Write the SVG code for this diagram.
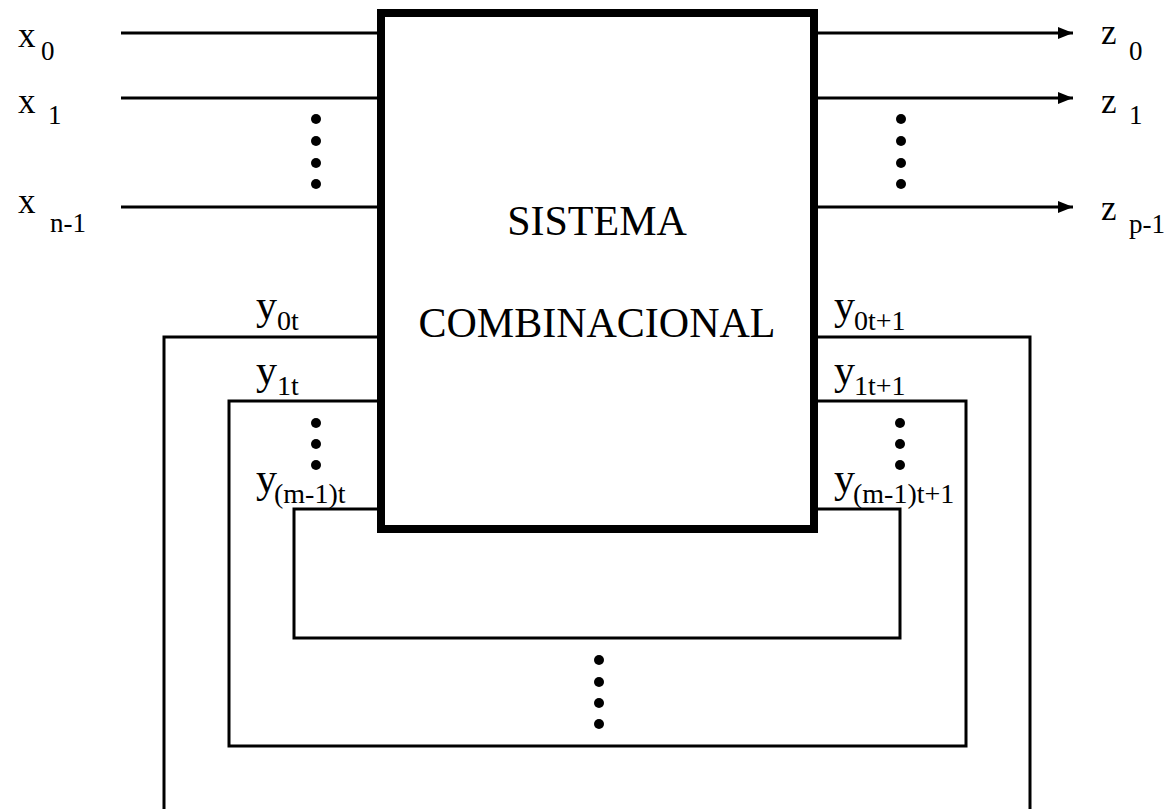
<svg xmlns="http://www.w3.org/2000/svg" width="1171" height="809" viewBox="0 0 1171 809">
<defs>
<style>
.w{fill:none;stroke:#000;stroke-width:3}
.box{fill:#fff;stroke:#000;stroke-width:8}
.t{font-family:"Liberation Serif","Times New Roman",serif;fill:#000}
.m{font-size:35px}
.s{font-size:27px}
.y{font-size:42px}
.ys{font-size:28px}
.c{font-size:42px}
</style>
<marker id="arr" markerUnits="userSpaceOnUse" markerWidth="16" markerHeight="14" refX="15" refY="6" orient="auto">
<path d="M0,0 L15,6 L0,12 Z" fill="#000"/>
</marker>
</defs>
<g id="connectors">
<line class="w" x1="121" y1="33" x2="381" y2="33"/>
<line class="w" x1="121" y1="98" x2="381" y2="98"/>
<line class="w" x1="121" y1="207" x2="381" y2="207"/>
<line class="w" x1="814" y1="33" x2="1073" y2="33" marker-end="url(#arr)"/>
<line class="w" x1="814" y1="98" x2="1073" y2="98" marker-end="url(#arr)"/>
<line class="w" x1="814" y1="207" x2="1073" y2="207" marker-end="url(#arr)"/>
<path class="w" d="M381 337 H164 V812"/>
<path class="w" d="M814 337 H1030 V812"/>
<path class="w" d="M381 401 H229 V746 H966 V401 H814"/>
<path class="w" d="M381 509 H294 V638 H900 V509 H814"/>
</g>
<g id="dots">
<circle cx="316" cy="119" r="5"/><circle cx="316" cy="141" r="5"/><circle cx="316" cy="163" r="5"/><circle cx="316" cy="184" r="5"/>
<circle cx="901" cy="119" r="5"/><circle cx="901" cy="141" r="5"/><circle cx="901" cy="163" r="5"/><circle cx="901" cy="184" r="5"/>
<circle cx="316" cy="423" r="5"/><circle cx="316" cy="444" r="5"/><circle cx="316" cy="465" r="5"/>
<circle cx="900" cy="423" r="5"/><circle cx="900" cy="444" r="5"/><circle cx="900" cy="465" r="5"/>
<circle cx="599" cy="660" r="5"/><circle cx="599" cy="682" r="5"/><circle cx="599" cy="703" r="5"/><circle cx="599" cy="724" r="5"/>
</g>
<g id="sistema">
<rect class="box" x="381" y="13" width="433" height="516"/>
<text class="t c" x="597" y="235" text-anchor="middle">SISTEMA</text>
<text class="t c" x="597" y="337" text-anchor="middle">COMBINACIONAL</text>
</g>
<g id="inputs">
<text class="t m" x="18" y="47">x</text><text class="t s" x="41" y="60">0</text>
<text class="t m" x="18" y="113">x</text><text class="t s" x="48" y="124">1</text>
<text class="t m" x="18" y="213">x</text><text class="t s" x="50" y="232">n-1</text>
</g>
<g id="outputs">
<text class="t m" x="1101" y="44">z</text><text class="t s" x="1129" y="60">0</text>
<text class="t m" x="1101" y="113">z</text><text class="t s" x="1129" y="124">1</text>
<text class="t m" x="1101" y="220">z</text><text class="t s" x="1129" y="233">p-1</text>
</g>
<g id="state">
<text class="t y" x="256" y="319">y</text><text class="t ys" x="277" y="330">0t</text>
<text class="t y" x="256" y="384">y</text><text class="t ys" x="277" y="395">1t</text>
<text class="t y" x="256" y="492">y</text><text class="t ys" x="274" y="503">(m-1)t</text>
<text class="t y" x="834" y="319">y</text><text class="t ys" x="854" y="330">0t+1</text>
<text class="t y" x="834" y="384">y</text><text class="t ys" x="854" y="395">1t+1</text>
<text class="t y" x="834" y="492">y</text><text class="t ys" x="853" y="503">(m-1)t+1</text>
</g>
</svg>
